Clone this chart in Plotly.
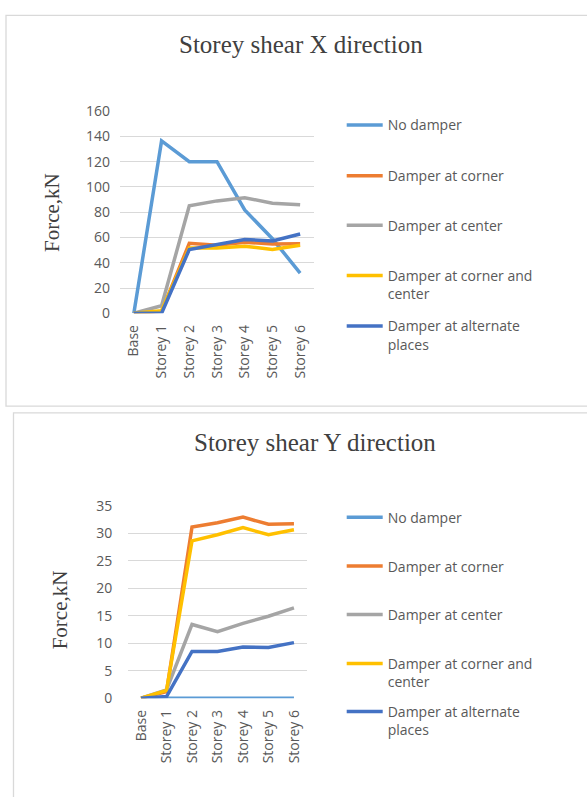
import plotly.graph_objects as go

W, H = 587, 797

categories = ["Base", "Storey 1", "Storey 2", "Storey 3", "Storey 4", "Storey 5", "Storey 6"]
series_names = [
    "No damper",
    "Damper at corner",
    "Damper at center",
    "Damper at corner and<br>center",
    "Damper at alternate<br>places",
]
series_colors = ["#5B9BD5", "#ED7D31", "#A5A5A5", "#FFC000", "#4472C4"]

# Storey shear, X direction (kN)
x_no_damper = [0, 136.5, 120, 120, 81.8, 59, 31.8]
x_corner = [0, 1.5, 55.4, 53.8, 56.2, 54.9, 55.1]
x_center = [0, 6, 85.1, 89, 91.5, 87.2, 85.9]
x_corner_center = [0, 2, 51.8, 51.8, 53.1, 50.5, 53.8]
x_alternate = [0, 0, 50.5, 54.4, 58.5, 57.2, 62.8]

# Storey shear, Y direction (kN)
y_no_damper = [0, 0, 0, 0, 0, 0, 0]
y_corner = [0, 1.2, 31.1, 31.9, 32.9, 31.6, 31.7]
y_center = [0, 1.5, 13.4, 12.1, 13.6, 14.9, 16.4]
y_corner_center = [0, 1.4, 28.6, 29.7, 31.0, 29.7, 30.6]
y_alternate = [0, 0.3, 8.5, 8.5, 9.3, 9.2, 10.1]

x_ticks = [0, 20, 40, 60, 80, 100, 120, 140, 160]
y_ticks = [0, 5, 10, 15, 20, 25, 30, 35]


def px(x):
    """Pixel column -> paper x."""
    return x / W


def py(y):
    """Pixel row -> paper y."""
    return 1 - y / H


fig = go.Figure()

panels = [
    dict(data=[x_no_damper, x_corner, x_center, x_corner_center, x_alternate],
         xa="x", ya="y", leg_y=[117.3, 169.3, 220.0, 271.7, 323.3], legend_offset=0),
    dict(data=[y_no_damper, y_corner, y_center, y_corner_center, y_alternate],
         xa="x2", ya="y2", leg_y=[519.3, 569.3, 619.0, 669.0, 718.3], legend_offset=5),
]

# One single-entry legend per series so the entries sit on an even pitch
LEG_X = 341.7
legend_layout = {}
for p in panels:
    for i, (name, color, vals) in enumerate(zip(series_names, series_colors, p["data"])):
        n = p["legend_offset"] + i + 1
        leg_id = "legend" if n == 1 else f"legend{n}"
        fig.add_trace(go.Scatter(
            x=categories, y=vals, mode="lines", name=name,
            line=dict(color=color, width=3.5),
            xaxis=p["xa"], yaxis=p["ya"], legend=leg_id,
            hoverinfo="x+y+name",
        ))
        legend_layout[leg_id] = dict(
            x=px(LEG_X), y=py(p["leg_y"][i] - 15.6),
            xanchor="left", yanchor="top",
            bgcolor="rgba(0,0,0,0)", valign="top", itemwidth=36,
            font=dict(family="Open Sans", size=14, color="#595959"),
        )

tick_font = dict(family="Open Sans", size=14, color="#595959")
axis_common = dict(showline=False, zeroline=False, ticks="", tickfont=tick_font)

fig.update_layout(
    width=W, height=H,
    margin=dict(l=0, r=0, t=0, b=0),
    paper_bgcolor="white", plot_bgcolor="white",
    showlegend=True,
    xaxis=dict(domain=[px(120), px(314)], type="category", range=[-0.5, 6.5],
               showgrid=False, tickangle=-90, anchor="y", ticklabelstandoff=8,
               **axis_common),
    yaxis=dict(domain=[py(310.7), py(103.7)], range=[0, 160], tickvals=x_ticks,
               showgrid=True, gridcolor="#D9D9D9", gridwidth=1.3, anchor="x",
               ticklabelstandoff=9, **axis_common),
    xaxis2=dict(domain=[px(128.3), px(306.7)], type="category", range=[-0.5, 6.5],
                showgrid=False, tickangle=-90, anchor="y2", ticklabelstandoff=8,
                **axis_common),
    yaxis2=dict(domain=[py(705), py(507.7)], range=[0, 35], tickvals=y_ticks,
                showgrid=True, gridcolor="#D9D9D9", gridwidth=1.3, anchor="x2",
                ticklabelstandoff=15, **axis_common),
    **legend_layout,
)

# Chart-area frames
frame = dict(type="rect", xref="paper", yref="paper",
             line=dict(color="#D9D9D9", width=1.3), fillcolor="rgba(0,0,0,0)", layer="below")
fig.add_shape(x0=px(6), x1=px(620), y0=py(5.5), y1=py(405.7), **frame)
fig.add_shape(x0=px(13.5), x1=px(620), y0=py(412.7), y1=py(830), **frame)

title_font = dict(family="Liberation Serif", size=25, color="#404040")
axis_title_font = dict(family="Liberation Serif", size=21, color="#404040")
fig.add_annotation(text="Storey shear X direction", x=px(301), y=py(35), xref="paper", yref="paper",
                   xanchor="center", yanchor="middle", showarrow=False, font=title_font)
fig.add_annotation(text="Storey shear Y direction", x=px(315), y=py(443), xref="paper", yref="paper",
                   xanchor="center", yanchor="middle", showarrow=False, font=title_font)
fig.add_annotation(text="Force,kN", x=px(52), y=py(208), xref="paper", yref="paper", textangle=-90,
                   xanchor="center", yanchor="middle", showarrow=False, font=axis_title_font)
fig.add_annotation(text="Force,kN", x=px(60), y=py(615), xref="paper", yref="paper", textangle=-90,
                   xanchor="center", yanchor="middle", showarrow=False, font=axis_title_font)

fig.write_html("out.html")
